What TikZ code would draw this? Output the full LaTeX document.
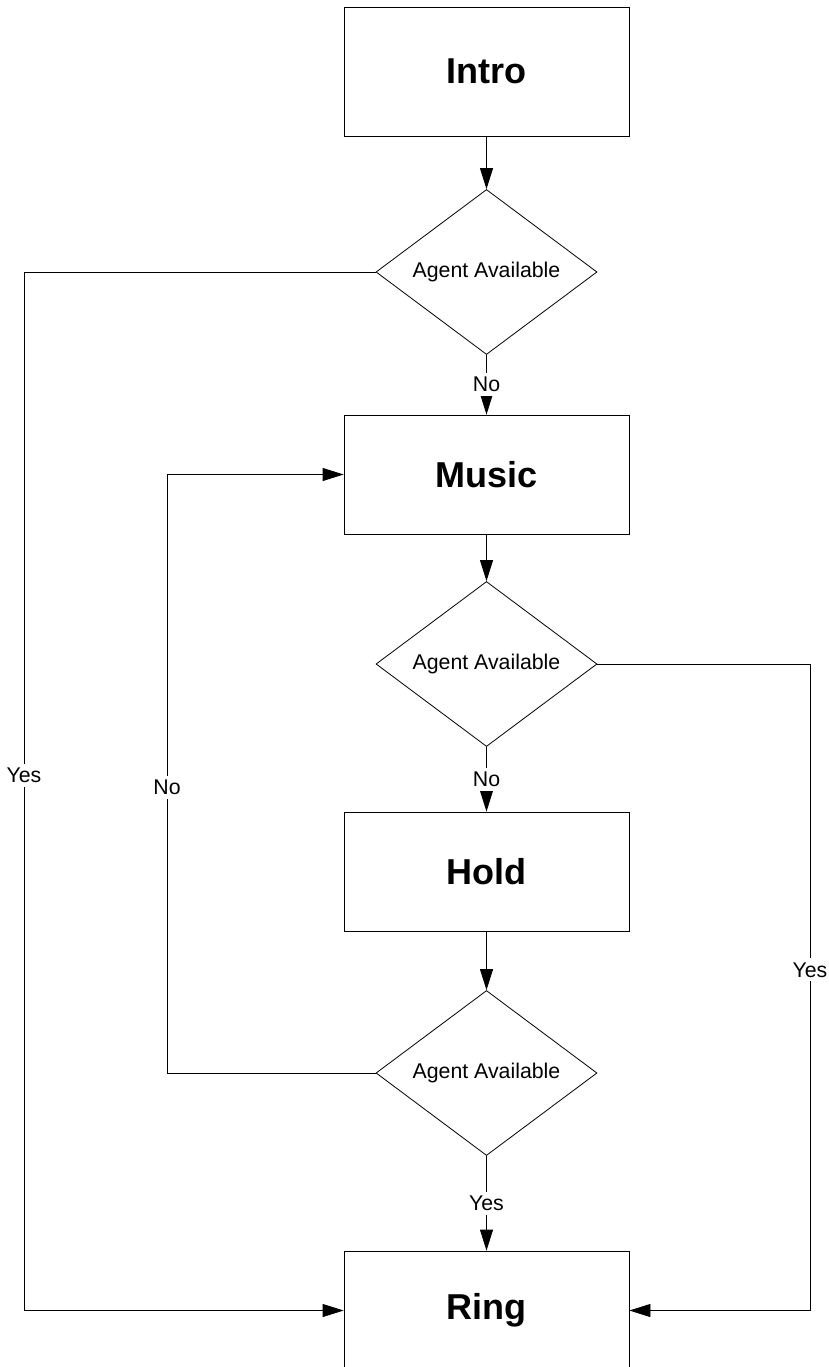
\documentclass[tikz,border=0pt]{standalone}
\usepackage{fontspec}
\setmainfont{Liberation Sans}
\usetikzlibrary{shapes.geometric, arrows.meta}

\begin{document}
\begin{tikzpicture}[x=1pt, y=-1pt, line width=0.8pt,
    stepbox/.style={draw, rectangle, minimum width=285pt, minimum height=119pt, inner sep=0pt,
        font=\fontsize{36}{40}\selectfont\bfseries},
    query/.style={draw, diamond, aspect=1.34, minimum width=221pt, minimum height=165pt, inner sep=0pt,
        font=\fontsize{21.3}{24}\selectfont},
    lbl/.style={fill=white, inner sep=4pt, font=\fontsize{21.3}{24}\selectfont},
    arr/.style={-{Triangle[length=21pt, width=13pt]}}]
        \useasboundingbox (0, 0) rectangle (829, 1367);
        \node[stepbox, minimum height=129pt] at (486.5, 71.5) (intro) {Intro};
        \node[query] at (486.5, 272) (d1) {Agent Available};
        \node[stepbox] at (486.5, 474.5) (music) {Music};
        \node[query] at (486.5, 664) (d2) {Agent Available};
        \node[stepbox] at (486.5, 871.5) (hold) {Hold};
        \node[query] at (486.5, 1073) (d3) {Agent Available};
        \node[stepbox] at (486.5, 1310.5) (ring) {Ring};
        \coordinate (leftrail) at (24, 0);
        \coordinate (looprail) at (167, 0);
        \coordinate (rightrail) at (810, 0);
        \draw[arr] (intro) edge (d1);
        \draw[arr] (d1) edge node[lbl] {No} (music);
        \draw[arr] (music) edge (d2);
        \draw[arr] (d2) edge node[lbl] {No} (hold);
        \draw[arr] (hold) edge (d3);
        \draw[arr] (d3) edge node[lbl] {Yes} (ring);
        \draw[arr] (d1) -- (d1 -| leftrail) -- node[lbl, pos=0.485] {Yes} (ring -| leftrail) -- (ring);
        \draw[arr] (d3) -- (d3 -| looprail) -- node[lbl, pos=0.477] {No} (music -| looprail) -- (music);
        \draw[arr] (d2) -- (d2 -| rightrail) -- node[lbl, pos=0.473] {Yes} (ring -| rightrail) -- (ring);
    \end{tikzpicture}
\end{document}
